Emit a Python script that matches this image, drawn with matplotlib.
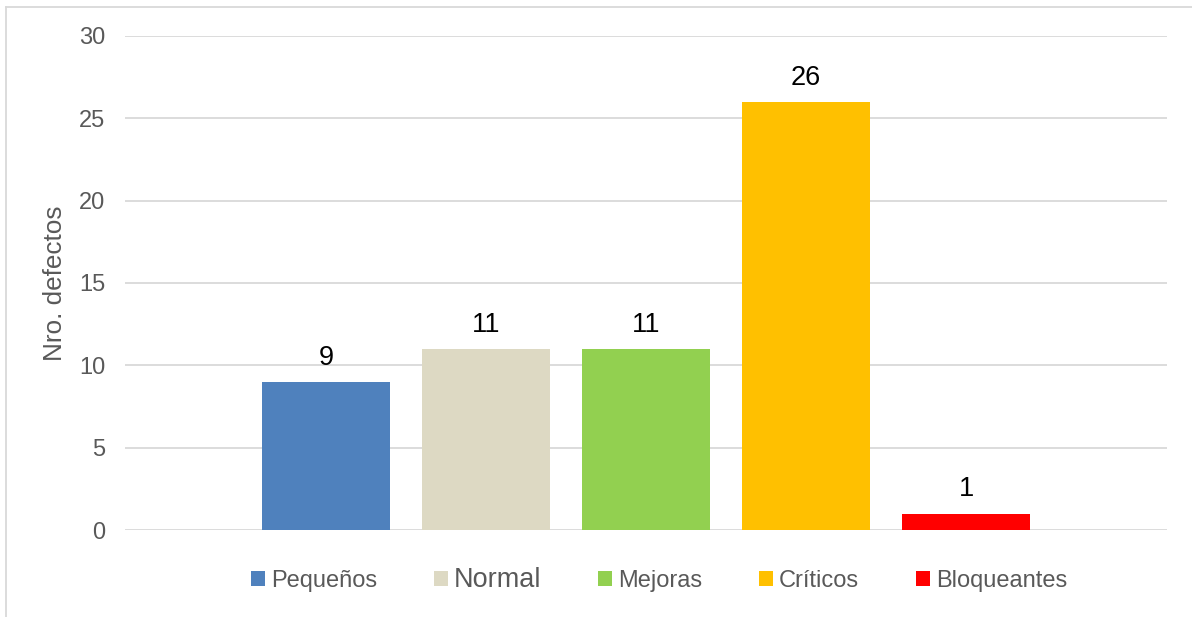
import matplotlib.pyplot as plt
from matplotlib.lines import Line2D
from matplotlib.patches import Patch

plt.rcParams['font.family'] = ['Liberation Sans', 'DejaVu Sans']

categorias = ['Pequeños', 'Normal', 'Mejoras', 'Críticos', 'Bloqueantes']
defectos = [9, 11, 11, 26, 1]
colores = ['#4F81BD', '#DDD9C3', '#92D050', '#FFC000', '#FF0000']
yticks = [0, 5, 10, 15, 20, 25, 30]

gris = '#595959'

fig = plt.figure(figsize=(11.92, 6.17), dpi=100)
ax = fig.add_axes([0.1049, 0.141, 0.979 - 0.1049, 0.9417 - 0.141])

x = list(range(len(categorias)))
ax.bar(x, defectos, width=0.794, color=colores, zorder=3)
for xi, v in zip(x, defectos):
    ax.annotate(str(v), (xi, v), xytext=(0, 8), textcoords='offset points',
                ha='center', va='bottom', fontsize=19.5, color='black')

ax.set_xlim(-1.256, len(categorias) - 1 + 1.256)
ax.set_ylim(0, 30)
ax.set_yticks(yticks)
ax.set_xticks([])
ax.grid(axis='y', color='#d9d9d9', linewidth=1.3, zorder=0)
for s in ax.spines.values():
    s.set_visible(False)
ax.tick_params(axis='y', length=0, pad=14, labelsize=17, labelcolor=gris)
ax.set_ylabel('Nro. defectos', fontsize=18.8, color=gris, labelpad=9)

# leyenda con cuadros de color
handles = [Patch(facecolor=c, edgecolor='none') for c in colores]
leg = fig.legend(handles, categorias, loc='center', bbox_to_anchor=(0.553, 1 - 580 / 617),
                 ncol=5, frameon=False, fontsize=17, handlelength=0.6, handleheight=0.6,
                 handletextpad=0.25, columnspacing=2.4, labelcolor=gris)
leg.get_texts()[1].set_fontsize(19.5)

# marco del grafico
fig.add_artist(Line2D([5.5 / 1192, 5.5 / 1192], [0, 1 - 6.5 / 617], color='#d9d9d9', linewidth=1.3))
fig.add_artist(Line2D([5.5 / 1192, 1], [1 - 6.5 / 617, 1 - 6.5 / 617], color='#d9d9d9', linewidth=1.3))

fig.savefig('out.png', dpi=100)
